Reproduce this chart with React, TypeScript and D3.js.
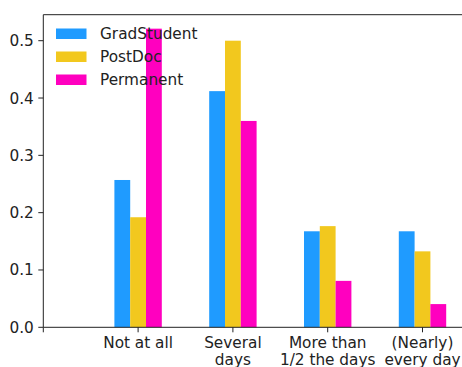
import React from "react";
import * as d3 from "d3";

const categories = ["", "Not at all", "Several\ndays", "More than\n1/2 the days", "(Nearly)\nevery day"];
const seriesNames = ["GradStudent", "PostDoc", "Permanent"];
const gradStudent = [0.257, 0.412, 0.1675, 0.1675];
const postDoc = [0.192, 0.5, 0.1765, 0.1325];
const permanent = [0.521, 0.36, 0.081, 0.0405];
const yTicks = [0.0, 0.1, 0.2, 0.3, 0.4, 0.5];
const colors = ["#1f9bff", "#f2c81e", "#ff00bf"];

const W = 462;
const H = 367;
const left = 43.3;
const top = 14.7;
const bottom = 327.3;

export default function App() {
  const series = [gradStudent, postDoc, permanent];
  const x = d3.scaleLinear().domain([0, 1]).range([left, left + 94.8]);
  const y = d3.scaleLinear().domain([0, 0.5]).range([bottom, 40.7]);
  const barW = x(1 / 6) - x(0);
  const font = "DejaVu Sans, sans-serif";
  const fs = 15.3;
  return (
    <svg width={W} height={H} style={{ position: "absolute", left: 0, top: 0 }} fontFamily={font}>
      <rect x={0} y={0} width={W} height={H} fill="#fff" />
      {series.map((vals, s) =>
        vals.map((v, i) => (
          <rect
            key={`${s}-${i}`}
            x={x(i + 1 + (s - 1) / 6) - barW / 2}
            y={y(v)}
            width={barW}
            height={y(0) - y(v)}
            fill={colors[s]}
          />
        ))
      )}
      {/* spines */}
      <line x1={left} x2={W} y1={top} y2={top} stroke="#222" strokeWidth={1} />
      <line x1={left} x2={W} y1={bottom} y2={bottom} stroke="#222" strokeWidth={1} />
      <line x1={left} x2={left} y1={top} y2={bottom} stroke="#222" strokeWidth={1} />
      {yTicks.map((t) => (
        <g key={t}>
          <line x1={left - 5} x2={left} y1={y(t)} y2={y(t)} stroke="#222" />
          <text x={left - 9.5} y={y(t) + 5.5} textAnchor="end" fontSize={fs} fill="#222">
            {t.toFixed(1)}
          </text>
        </g>
      ))}
      {categories.map((c, i) => (
        <g key={i}>
          <line x1={x(i)} x2={x(i)} y1={bottom} y2={bottom + 5} stroke="#222" />
          {c.split("\n").map((ln, j) => (
            <text key={j} x={x(i)} y={348.3 + j * 17} textAnchor="middle" fontSize={fs} fill="#222">
              {ln}
            </text>
          ))}
        </g>
      ))}
      {seriesNames.map((n, k) => (
        <g key={n}>
          <rect x={56} y={28.5 + k * 23} width={30.5} height={10.5} fill={colors[k]} />
          <text x={100} y={39.3 + k * 23} fontSize={fs} fill="#222">
            {n}
          </text>
        </g>
      ))}
    </svg>
  );
}
